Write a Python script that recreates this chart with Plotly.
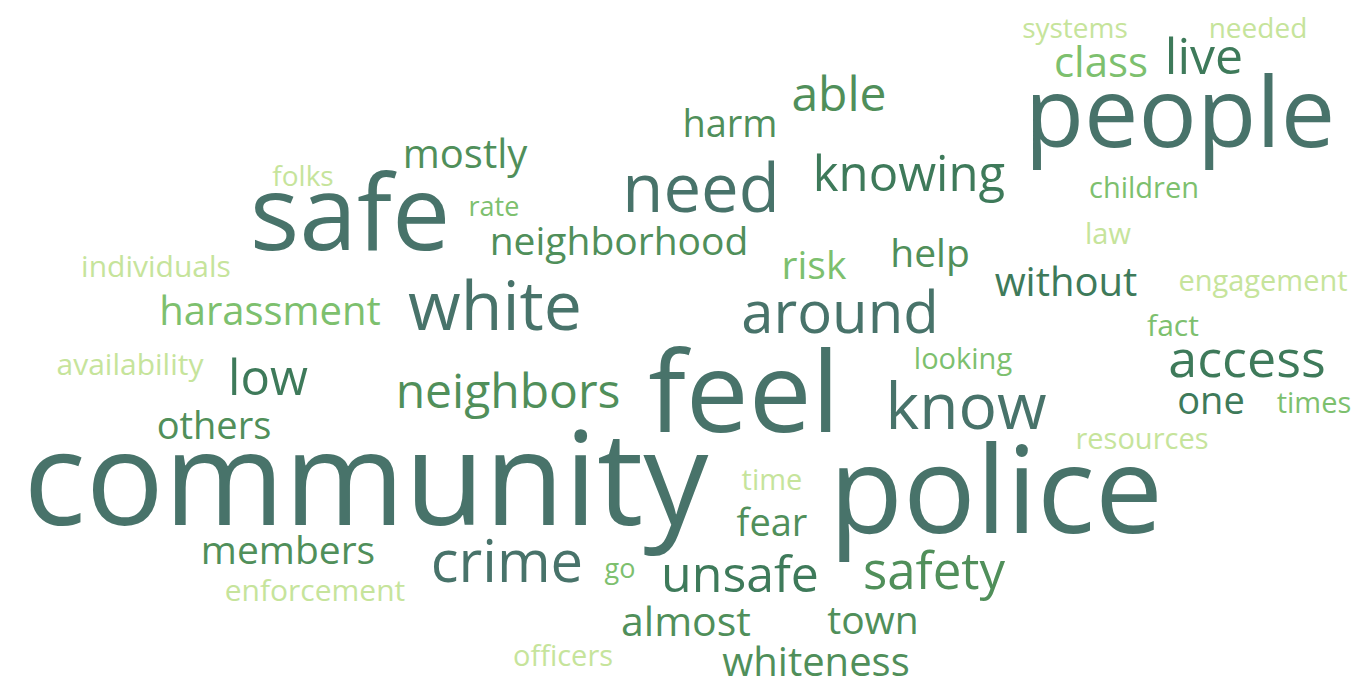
import plotly.graph_objects as go

# words of the cloud, their weight (drawn as font size) and colour tier
words = [
    "community", "police", "feel", "people", "safe", "need", "white", "around",
    "know", "crime", "knowing", "able", "harm", "mostly", "folks", "rate",
    "neighborhood", "individuals", "harassment", "availability", "low", "others",
    "neighbors", "members", "enforcement", "go", "unsafe", "time", "fear",
    "safety", "almost", "town", "officers", "whiteness", "risk", "help",
    "without", "access", "one", "times", "resources", "fact", "engagement",
    "law", "children", "looking", "class", "live", "systems", "needed",
]
weights = [
    130, 121, 112, 97, 104, 67, 68, 58,
    64, 58, 49, 48, 38, 40, 28, 27,
    39, 30, 40, 30, 49, 38,
    48, 39, 30, 27, 50, 29, 38,
    51, 41, 39, 29, 40, 39, 39,
    40, 52, 38, 29, 29, 30, 29,
    29, 29, 29, 42, 50, 28, 28,
]
tiers = [
    1, 1, 1, 1, 1, 1, 1, 1,
    1, 1, 2, 3, 3, 3, 5, 4,
    3, 5, 4, 5, 2, 3,
    3, 3, 5, 4, 2, 5, 3,
    3, 3, 3, 5, 3, 4, 3,
    2, 2, 2, 4, 5, 4, 5,
    5, 4, 4, 4, 2, 5, 5,
]
# placement of each word in the cloud (pixel grid of the picture)
pos_x = [
    358, 988, 736, 1172, 342, 693, 487, 832,
    958, 499, 901, 831, 722, 457, 295, 486,
    611, 148, 262, 122, 260, 206,
    500, 280, 307, 612, 732, 764, 764,
    926, 678, 865, 555, 808, 806, 922,
    1058, 1239, 1203, 1306, 1134, 1165, 1255,
    1100, 1136, 955, 1093, 1196, 1067, 1250,
]
pos_y = [
    484, 495, 396, 115, 216, 187, 305, 310,
    405, 559, 171, 91, 119, 150, 171, 201,
    237, 261, 307, 359, 375, 421,
    388, 546, 585, 563, 571, 475, 518,
    568, 618, 616, 651, 658, 261, 249,
    278, 356, 396, 398, 434, 320, 276,
    229, 183, 354, 58, 53, 23, 23,
]

palette = {1: "#48736a", 2: "#3e7a5a", 3: "#508f5a", 4: "#7dc06e", 5: "#c6e49b"}

fig = go.Figure(
    go.Scatter(
        x=pos_x,
        y=pos_y,
        mode="text",
        text=words,
        textposition="middle center",
        textfont=dict(
            family="Open Sans",
            size=weights,
            color=[palette[t] for t in tiers],
        ),
        hoverinfo="text",
    )
)

fig.update_layout(
    width=1371,
    height=686,
    margin=dict(l=0, r=0, t=0, b=0),
    plot_bgcolor="white",
    paper_bgcolor="white",
    showlegend=False,
    xaxis=dict(range=[0, 1371], visible=False, fixedrange=True),
    yaxis=dict(range=[686, 0], visible=False, fixedrange=True),
)

fig.write_html("out.html")
